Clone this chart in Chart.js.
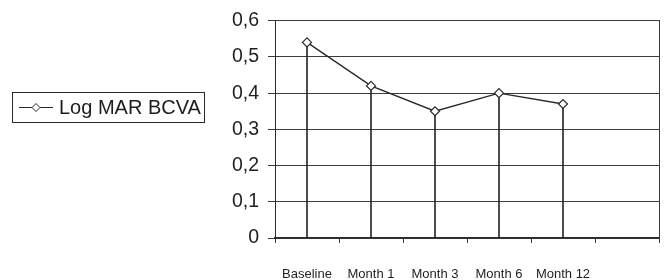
<!DOCTYPE html>
<html>
<head>
<meta charset="utf-8">
<script src="https://cdn.jsdelivr.net/npm/chart.js@4/dist/chart.umd.min.js"></script>
<style>
  html, body { margin: 0; padding: 0; background: #fff; }
  #wrap { width: 667px; height: 280px; }
</style>
</head>
<body>
<div id="wrap"><canvas id="myChart" width="667" height="280"></canvas></div>
<script>
// datos
const categories = ['Baseline', 'Month 1', 'Month 3', 'Month 6', 'Month 12', ''];
const logMarBcva = [0.54, 0.42, 0.35, 0.40, 0.37, null];
const yTickLabels = ['0', '0,1', '0,2', '0,3', '0,4', '0,5', '0,6'];
const seriesName = 'Log MAR BCVA';

const ink = '#2a2a2a';
const gridColor = '#3c3c3c';

// legenda desenhada à mão, a caixa fica à esquerda
const boxLegend = {
  id: 'boxLegend',
  afterDraw(chart) {
    const ctx = chart.ctx;
    const ds = chart.data.datasets[0];
    ctx.save();
    ctx.strokeStyle = ink;
    ctx.lineWidth = 1;
    ctx.strokeRect(12.5, 92.5, 192, 30);
    // linha + losango
    ctx.beginPath();
    ctx.moveTo(19, 107.5);
    ctx.lineTo(53, 107.5);
    ctx.stroke();
    ctx.beginPath();
    ctx.moveTo(36, 103.5);
    ctx.lineTo(40, 107.5);
    ctx.lineTo(36, 111.5);
    ctx.lineTo(32, 107.5);
    ctx.closePath();
    ctx.fillStyle = '#fff';
    ctx.fill();
    ctx.stroke();
    ctx.fillStyle = '#1e1e1e';
    ctx.font = '20px "Liberation Sans", Arial, sans-serif';
    ctx.textBaseline = 'middle';
    ctx.fillText(ds.label, 59, 108);
    ctx.restore();
  }
};

let ctx = document.getElementById('myChart').getContext('2d');
let chart = new Chart(ctx, {
  data: {
    labels: categories,
    datasets: [
      {
        type: 'line',
        label: seriesName,
        data: logMarBcva,
        borderColor: ink,
        borderWidth: 1.4,
        pointStyle: 'rectRot',
        pointRadius: 4.5,
        pointBackgroundColor: '#fff',
        pointBorderColor: ink,
        pointBorderWidth: 1.2,
        tension: 0,
        order: 0
      },
      {
        // linhas de queda até o eixo
        type: 'bar',
        label: 'drop',
        data: logMarBcva,
        backgroundColor: ink,
        barThickness: 1,
        order: 1
      }
    ]
  },
  options: {
    responsive: false,
    animation: false,
    layout: { padding: { left: 222, right: 8, top: 17, bottom: 0 } },
    plugins: {
      legend: { display: false },
      tooltip: { enabled: false }
    },
    scales: {
      x: {
        type: 'category',
        offset: true,
        grid: {
          offset: true,
          drawOnChartArea: false,
          drawTicks: true,
          tickLength: 5,
          color: gridColor
        },
        border: { display: true, color: ink, width: 1.5 },
        ticks: {
          color: '#1e1e1e',
          padding: 24,
          maxRotation: 0,
          autoSkip: false,
          font: { family: '"Liberation Sans", Arial, sans-serif', size: 13 }
        },
        afterFit(scale) { scale.height = 42; }
      },
      y: {
        min: 0,
        max: 0.6,
        ticks: {
          stepSize: 0.1,
          color: '#1e1e1e',
          padding: 9,
          font: { family: '"Liberation Sans", Arial, sans-serif', size: 19.5 },
          callback: (v, i) => yTickLabels[i]
        },
        grid: { color: gridColor, lineWidth: 1, tickLength: 7 },
        border: { display: true, color: ink, width: 1 },
        afterFit(scale) { scale.width = 53; }
      },
      yRight: {
        position: 'right',
        min: 0,
        max: 0.6,
        ticks: { display: false },
        grid: { display: false, drawTicks: false },
        border: { display: true, color: gridColor, width: 1 },
        afterFit(scale) { scale.width = 0; }
      }
    }
  },
  plugins: [boxLegend]
});
</script>
</body>
</html>
